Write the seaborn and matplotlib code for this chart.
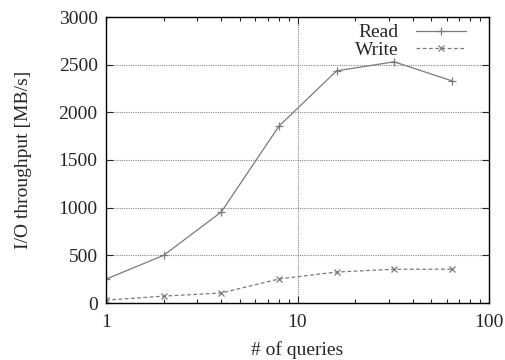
import matplotlib
matplotlib.use("Agg")
import matplotlib.pyplot as plt
import seaborn as sns
import pandas as pd
from matplotlib.ticker import LogLocator, FixedLocator, NullFormatter

queries = [1, 2, 4, 8, 16, 32, 64]
read_vals = [250, 500, 955, 1855, 2435, 2530, 2330]
write_vals = [30, 72, 105, 252, 325, 354, 354]

sns.set_style("ticks")
plt.rcParams['font.family'] = ['Liberation Serif', 'DejaVu Serif']
fs = 14
plt.rcParams['font.size'] = fs

df = pd.DataFrame({
    "queries": queries * 2,
    "value": read_vals + write_vals,
    "series": ["Read"] * len(queries) + ["Write"] * len(queries),
})

fig = plt.figure(figsize=(5.06, 3.6), dpi=100)
ax = fig.add_axes([106/506, 1 - 303/360, (489-106)/506, (303-17)/360])

color = "#7a7a7a"
sns.lineplot(data=df[df.series == "Read"], x="queries", y="value", ax=ax,
             color=color, lw=0.9, marker="+", markersize=6, mew=0.9,
             markeredgecolor=color, label="Read")
sns.lineplot(data=df[df.series == "Write"], x="queries", y="value", ax=ax,
             color=color, lw=0.9, ls=(0, (3, 2)), marker="x", markersize=4.5,
             mew=0.9, markeredgecolor=color, label="Write")

ax.set_xscale("log")
ax.set_xlim(1, 100)
ax.set_ylim(0, 3000)
ax.set_yticks([0, 500, 1000, 1500, 2000, 2500, 3000])
ax.xaxis.set_major_locator(FixedLocator([1, 10, 100]))
ax.set_xticklabels(["1", "10", "100"])
ax.xaxis.set_minor_locator(LogLocator(base=10, subs=range(2, 10)))
ax.xaxis.set_minor_formatter(NullFormatter())

ax.tick_params(which="both", direction="in", top=True, right=True, labelsize=fs)
ax.tick_params(which="major", length=5, width=0.8)
ax.tick_params(which="minor", length=3, width=0.8)
ax.tick_params(axis="x", pad=8)
ax.tick_params(axis="y", pad=6)

for y in [500, 1000, 1500, 2000, 2500]:
    ax.axhline(y, color="#888888", lw=0.8, ls=(0, (1, 1)), zorder=0)
ax.axvline(10, color="#888888", lw=0.8, ls=(0, (1, 1)), zorder=0)

for s in ax.spines.values():
    s.set_visible(True)
    s.set_linewidth(1.0)
    s.set_color("black")

ax.set_xlabel("# of queries", fontsize=fs, labelpad=7)
ax.set_ylabel("I/O throughput [MB/s]", fontsize=fs, labelpad=19)

leg = ax.legend(loc="upper right", frameon=False, markerfirst=False,
                fontsize=fs, handlelength=2.6, borderaxespad=0.0,
                labelspacing=0.0, handletextpad=0.9,
                bbox_to_anchor=(1 - 15/383, 1 + 1/286))

fig.savefig("out.png", dpi=100)
